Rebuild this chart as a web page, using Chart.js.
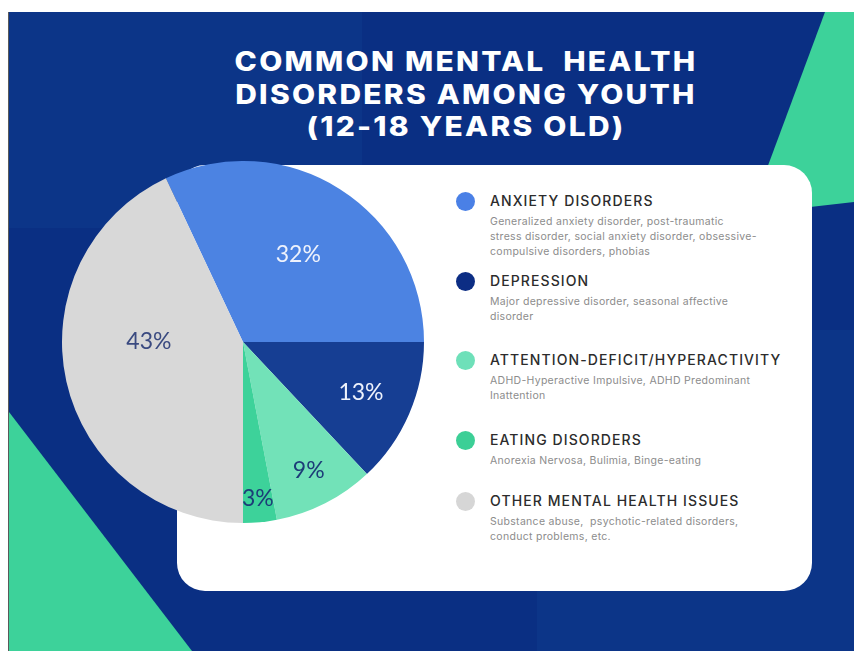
<!DOCTYPE html>
<html lang="en">
  <head>
    <meta charset="UTF-8" />
    <title>Common Mental Health Disorders Among Youth</title>
    <script src="https://cdn.jsdelivr.net/npm/chart.js@4.4.1/dist/chart.umd.min.js"></script>
    <style>
      html,
      body {
        margin: 0;
        padding: 0;
        background: #fff;
      }
      body {
        width: 854px;
        height: 651px;
        position: relative;
        overflow: hidden;
        font-family: Inter, Lato, "Open Sans", sans-serif;
      }
      .abs {
        position: absolute;
      }
      #frame {
        left: 8px;
        top: 12px;
        width: 846px;
        height: 639px;
        background: #0a2f83;
        border-left: 1px solid #5a5a5a;
        box-sizing: border-box;
      }
      .panel {
        background: #0c3588;
      }
      .green {
        left: 0;
        top: 0;
        width: 854px;
        height: 651px;
        background: #3dd29a;
      }
      #card {
        left: 177px;
        top: 165px;
        width: 635px;
        height: 426px;
        background: #fff;
        border-radius: 28px;
      }
      #title {
        left: 166px;
        top: 45px;
        width: 600px;
        text-align: center;
        color: #fff;
        font-weight: 800;
        font-size: 26.5px;
        line-height: 32.5px;
        letter-spacing: 2px;
        white-space: pre;
        transform: scaleX(1.13);
        transform-origin: 300px 0;
      }
      #pie {
        left: 62px;
        top: 161px;
        width: 362px;
        height: 362px;
      }
      .dot {
        width: 19px;
        height: 19px;
        border-radius: 50%;
      }
      .head {
        left: 490px;
        height: 20px;
        line-height: 20px;
        font-size: 14px;
        font-weight: 500;
        letter-spacing: 1.1px;
        color: #2c2c2c;
        white-space: nowrap;
      }
      .desc {
        left: 490px;
        font-size: 10.5px;
        line-height: 15px;
        letter-spacing: 0.3px;
        color: #8c8c8c;
        white-space: pre;
      }
    </style>
  </head>
  <body>
    <div id="frame" class="abs"></div>
    <div class="abs panel" style="left: 9px; top: 12px; width: 353px; height: 216px"></div>
    <div class="abs panel" style="left: 537px; top: 330px; width: 317px; height: 321px"></div>
    <div
      class="abs green"
      style="clip-path: polygon(825px 12px, 854px 12px, 854px 202px, 750px 214px)"
    ></div>
    <div
      class="abs green"
      style="clip-path: polygon(9px 412px, 192px 651px, 9px 651px)"
    ></div>
    <div id="card" class="abs"></div>
    <div id="title" class="abs">COMMON MENTAL  HEALTH
DISORDERS AMONG YOUTH
(12-18 YEARS OLD)</div>
    <div id="pie" class="abs"><canvas id="pieChart"></canvas></div>
    <div id="legend"></div>
    <script>
      const labels = [
        "ANXIETY DISORDERS",
        "DEPRESSION",
        "ATTENTION-DEFICIT/HYPERACTIVITY",
        "EATING DISORDERS",
        "OTHER MENTAL HEALTH ISSUES",
      ];
      const values = [32, 13, 9, 3, 43];
      const descriptions = [
        [
          "Generalized anxiety disorder, post-traumatic",
          "stress disorder, social anxiety disorder, obsessive-",
          "compulsive disorders, phobias",
        ],
        ["Major depressive disorder, seasonal affective", "disorder"],
        ["ADHD-Hyperactive Impulsive, ADHD Predominant", "Inattention"],
        ["Anorexia Nervosa, Bulimia, Binge-eating"],
        ["Substance abuse,  psychotic-related disorders,", "conduct problems, etc."],
      ];

      const sliceColors = ["#4c83e2", "#163e93", "#72e2b8", "#3dd29a", "#d8d8d8"];
      const dotColors = ["#4a80e6", "#0c2d84", "#6ee0b9", "#3ccf96", "#d6d6d6"];
      const pctColors = ["#eef2fc", "#eef2fc", "#1d3d78", "#1d3d78", "#3a4a80"];

      // legend rows: vertical centre of each heading
      const rowY = [201, 281, 360, 440, 501];
      const legend = document.getElementById("legend");
      labels.forEach((name, i) => {
        const y = rowY[i];
        legend.insertAdjacentHTML(
          "beforeend",
          `<div class="abs dot" style="left:${465 - 9.5}px;top:${y - 9.5}px;background:${dotColors[i]}"></div>` +
            `<div class="abs head" style="top:${y - 10}px">${name}</div>` +
            `<div class="abs desc" style="top:${y + 13}px">${descriptions[i].join("\n")}</div>`
        );
      });

      // percentage text inside the slices
      const pctLabels = {
        id: "pctLabels",
        afterDatasetsDraw(chart, args, opts) {
          const ctx = chart.ctx;
          chart.getDatasetMeta(0).data.forEach((arc, i) => {
            const p = arc.getProps(["x", "y", "startAngle", "endAngle", "outerRadius"], true);
            const a = (p.startAngle + p.endAngle) / 2 + (opts.shift[i] * Math.PI) / 180;
            const r = p.outerRadius * opts.dist[i];
            ctx.save();
            ctx.font = "400 23px Lato, Inter, sans-serif";
            ctx.fillStyle = pctColors[i];
            ctx.textAlign = "center";
            ctx.textBaseline = "middle";
            ctx.fillText(values[i] + "%", p.x + Math.cos(a) * r, p.y + Math.sin(a) * r);
            ctx.restore();
          });
        },
      };

      new Chart(document.getElementById("pieChart"), {
        type: "pie",
        data: {
          labels: labels,
          datasets: [
            {
              data: values,
              backgroundColor: sliceColors,
              borderWidth: 0,
              hoverOffset: 0,
            },
          ],
        },
        options: {
          responsive: true,
          maintainAspectRatio: false,
          animation: false,
          events: [],
          rotation: -25.2,
          layout: { padding: 0 },
          plugins: {
            legend: { display: false },
            tooltip: { enabled: false },
            pctLabels: {
              dist: [0.57, 0.71, 0.8, 0.87, 0.52],
              shift: [0, 0, 0, 0, 12.6],
            },
          },
        },
        plugins: [pctLabels],
      });
    </script>
  </body>
</html>
